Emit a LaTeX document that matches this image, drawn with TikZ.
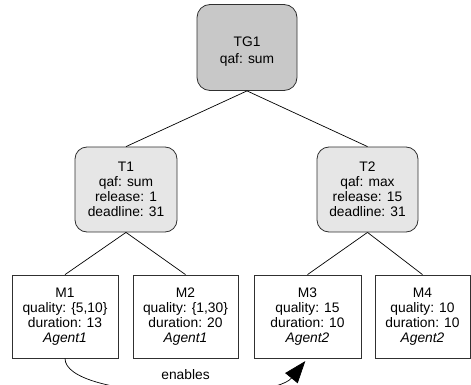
\documentclass[tikz,border=0pt]{standalone}
\usepackage{fontspec}
\setmainfont{Liberation Sans}
\usetikzlibrary{arrows.meta}
\definecolor{tgfill}{HTML}{C8C8C8}
\definecolor{tfill}{HTML}{E6E6E6}
\definecolor{edgec}{HTML}{303030}
\begin{document}
\begin{tikzpicture}[x=1pt,y=-1pt,
  font=\fontsize{13.8}{15}\selectfont,
  tgbox/.style={draw=edgec, line width=0.8pt, fill=tgfill, rounded corners=13pt, minimum width=100pt, minimum height=86pt, inner sep=0pt},
  tbox/.style={draw=edgec, line width=0.8pt, fill=tfill, rounded corners=12pt, minimum height=85pt, inner sep=0pt, align=center},
  mbox/.style={draw=edgec, line width=0.8pt, fill=white, minimum height=83pt, inner sep=0pt, align=center},
  link/.style={draw=black, line width=0.7pt}]
\useasboundingbox (0,0) rectangle (471,385);
% top
\node[tgbox] (tg1) at (247,47.5) {};
\node[align=center, font=\fontsize{13.8}{17}\selectfont] (tg1t) at ([yshift=-4pt]tg1.center) {TG1\\qaf: sum};
% tasks
\node[tbox, minimum width=102pt] (t1) at (126,189.5) {T1\\qaf: sum\\release: 1\\deadline: 31};
\node[tbox, minimum width=101pt] (t2) at (367.5,189.5) {T2\\qaf: max\\release: 15\\deadline: 31};
% methods
\node[mbox, minimum width=106pt] (m1) at (65,316.5) {M1\\quality: \{5,10\}\\duration: 13\\\textit{Agent1}};
\node[mbox, minimum width=105pt] (m2) at (185.5,316.5) {M2\\quality: \{1,30\}\\duration: 20\\\textit{Agent1}};
\node[mbox, minimum width=107pt] (m3) at (307.5,316.5) {M3\\quality: 15\\duration: 10\\\textit{Agent2}};
\node[mbox, minimum width=95pt] (m4) at (422.5,316.5) {M4\\quality: 10\\duration: 10\\\textit{Agent2}};
% tree edges
\draw[link] (tg1.south) -- (t1.north);
\draw[link] (tg1.south) -- (t2.north);
\draw[link] (t1.south) -- (m1.north);
\draw[link] (t1.south) -- (m2.north);
\draw[link] (t2.south) -- (m3.north);
\draw[link] (t2.south) -- (m4.north);
% enables
\draw[link, -{Triangle[length=22pt,width=16pt]}, shorten >=3.5pt]
  (m1.south) .. controls (65,400) and (272,402) .. (m3.south);
\node (enl) at (185.5,375) {enables};
\end{tikzpicture}
\end{document}
